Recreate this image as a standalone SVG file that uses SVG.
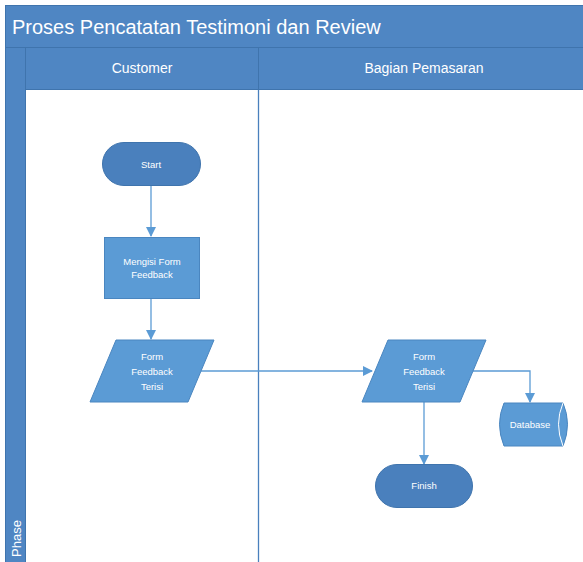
<svg xmlns="http://www.w3.org/2000/svg" width="583" height="562" viewBox="0 0 583 562">
<style>
.hdr{fill:#4f86c3;stroke:#3f74ad;stroke-width:1}
.ht{font-family:"Liberation Sans",Arial,sans-serif;fill:#ffffff}
.term{fill:#4a80bd;stroke:#3f74ad;stroke-width:1}
.proc{fill:#5b9bd5;stroke:#4a86c0;stroke-width:1}
.nt{font-family:"Liberation Sans",Arial,sans-serif;font-size:9.5px;fill:#ffffff;text-anchor:middle}
.conn{fill:none;stroke:#5b9bd5;stroke-width:1.3}
</style>
<defs>
<marker id="arr" markerWidth="10" markerHeight="10" refX="9" refY="5" orient="auto" markerUnits="userSpaceOnUse">
<path d="M0,0 L10,5 L0,10 Z" fill="#5b9bd5"/>
</marker>
</defs>
<rect width="583" height="562" fill="#ffffff"/>
<g id="pool">
<rect class="hdr" x="5.5" y="5.5" width="580" height="42"/>
<text class="ht" x="12" y="34" font-size="20">Proses Pencatatan Testimoni dan Review</text>
<rect class="hdr" x="5.5" y="47.5" width="20" height="520"/>
<text class="ht" font-size="13" transform="translate(21,557) rotate(-90)">Phase</text>
</g>
<g id="lane-customer">
<rect class="hdr" x="25.5" y="47.5" width="233" height="42"/>
<text class="ht" x="142" y="73" font-size="14" text-anchor="middle">Customer</text>
</g>
<g id="lane-pemasaran">
<rect class="hdr" x="258.5" y="47.5" width="330" height="42"/>
<text class="ht" x="424" y="73" font-size="14" text-anchor="middle">Bagian Pemasaran</text>
</g>
<line x1="258.5" y1="90" x2="258.5" y2="562" stroke="#4a80bd" stroke-width="1.3"/>
<g id="connectors">
<path class="conn" d="M151,186 V236" marker-end="url(#arr)"/>
<path class="conn" d="M151,298 V339" marker-end="url(#arr)"/>
<path class="conn" d="M201,371 H372" marker-end="url(#arr)"/>
<path class="conn" d="M473,371 H530 V402" marker-end="url(#arr)"/>
<path class="conn" d="M424,402 V464" marker-end="url(#arr)"/>
</g>
<g id="start">
<rect class="term" x="102.5" y="142.5" width="98" height="43" rx="21.5"/>
<text class="nt" x="151" y="168">Start</text>
</g>
<g id="mengisi">
<rect class="proc" x="104.5" y="237.5" width="95" height="61"/>
<text class="nt" x="152" y="265">Mengisi Form</text>
<text class="nt" x="152" y="278">Feedback</text>
</g>
<g id="form1">
<polygon class="proc" points="116,340 214,340 188,402 90,402"/>
<text class="nt" x="152" y="360">Form</text>
<text class="nt" x="152" y="375">Feedback</text>
<text class="nt" x="152" y="390">Terisi</text>
</g>
<g id="form2">
<polygon class="proc" points="388,340 486,340 460,402 362,402"/>
<text class="nt" x="424" y="360">Form</text>
<text class="nt" x="424" y="375">Feedback</text>
<text class="nt" x="424" y="390">Terisi</text>
</g>
<g id="database">
<path class="proc" d="M504,403 H563 Q572,424 563,446 H504 Q495,424 504,403 Z"/>
<path d="M563,403 Q554,424 563,446" fill="none" stroke="#ffffff" stroke-width="1"/>
<text class="nt" x="530" y="428">Database</text>
</g>
<g id="finish">
<rect class="term" x="375.5" y="464.5" width="97" height="43" rx="21.5"/>
<text class="nt" x="424" y="489">Finish</text>
</g>
</svg>
